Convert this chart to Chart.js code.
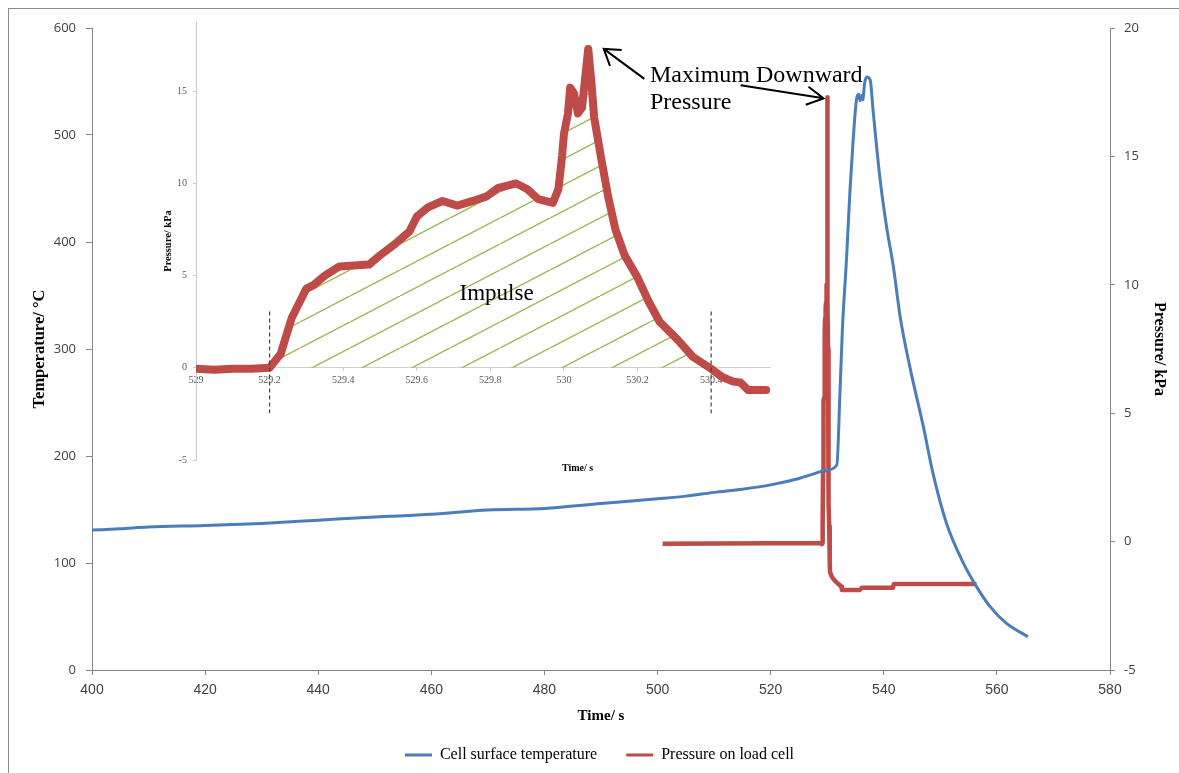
<!DOCTYPE html>
<html>
<head>
<meta charset="utf-8">
<script src="https://cdn.jsdelivr.net/npm/chart.js@4.4.1/dist/chart.umd.min.js"></script>
<style>
  body { margin: 0; background: #fff; overflow: hidden; }
  #wrap { position: relative; width: 1179px; height: 773px; overflow: hidden; }
  #frame { position: absolute; left: 8px; top: 8px; width: 1200px; height: 800px; border: 1px solid #8c8c8c; }
  #main { position: absolute; left: 0; top: 0; }
  #inset { position: absolute; left: 150px; top: 10px; pointer-events: none; }
</style>
</head>
<body>
<div id="wrap">
  <div id="frame"></div>
  <canvas id="main" width="1179" height="773"></canvas>
  <canvas id="inset" width="630" height="470"></canvas>
</div>
<script>
// cell surface temperature (°C) against time (s)
const tempTime = [400, 405, 410, 420, 430, 440, 450, 460, 470, 480,
  490, 500, 505, 510, 515, 520, 525, 528, 530, 531.7,
  532.25, 532.7, 533.4, 534.0, 534.55, 535.25, 535.6, 535.8, 536.1, 536.3,
  536.6, 537.0, 537.6, 538.1, 539.3, 540.5, 541.7, 542.9, 544.6, 547.0,
  548.7, 551.1, 554.1, 556.4, 558.8, 561.7, 565.5];
const tempValue = [130.8, 132, 133.6, 135, 137, 140, 143, 145.5, 149.5, 151,
  155.5, 160, 162.5, 166, 169, 173, 179, 184, 187, 191.6,
  258.9, 320.6, 383.2, 445.8, 492.5, 535.5, 538, 532, 537, 533,
  548, 554.2, 551.4, 523.4, 460.7, 414, 376.9, 330, 283.5, 227.4,
  183.8, 137, 99.7, 77.9, 59.2, 43.6, 31.1];

// pressure on load cell (kPa): flat start, the event (also the inset), then the tail
const startTime = [500.9];
const startPressure = [-0.08];
const insetTime = [529.00, 529.05, 529.10, 529.15, 529.20, 529.23, 529.26, 529.30, 529.32, 529.35,
  529.39, 529.47, 529.50, 529.54, 529.58, 529.60, 529.63, 529.67, 529.71, 529.76,
  529.79, 529.82, 529.87, 529.90, 529.93, 529.97, 529.985, 529.995, 530.00, 530.011,
  530.017, 530.027, 530.038, 530.049, 530.057, 530.066, 530.075, 530.082, 530.10, 530.12,
  530.14, 530.165, 530.20, 530.23, 530.26, 530.31, 530.35, 530.40, 530.43, 530.46,
  530.48, 530.50, 530.55];
const insetPressure = [-0.05, -0.1, -0.05, -0.05, 0, 0.75, 2.7, 4.3, 4.5, 5.0,
  5.5, 5.6, 6.1, 6.7, 7.4, 8.2, 8.7, 9.05, 8.8, 9.1,
  9.3, 9.75, 10.0, 9.7, 9.15, 8.95, 9.7, 11.5, 12.7, 13.8,
  15.2, 14.9, 13.8, 14.1, 15.6, 17.3, 15.4, 13.6, 11.5, 9.3,
  7.5, 6.1, 4.9, 3.6, 2.5, 1.5, 0.6, -0.05, -0.5, -0.75,
  -0.8, -1.2, -1.2];
const tailTime = [530.9, 531.5, 532.5, 532.6, 535.8, 536.1, 541.6, 541.8, 556.4];
const tailPressure = [-1.4, -1.56, -1.75, -1.88, -1.88, -1.8, -1.8, -1.65, -1.65];

// impulse window and its dashed markers
const impulseBounds = [529.2, 530.4];
const markerPressure = [3.06, -2.47];
const peak = { time: 530.066, pressure: 17.3 };

const mainTicksX = { min: 400, max: 580, step: 20 };
const mainTicksTemp = { min: 0, max: 600, step: 100 };
const mainTicksPressure = { min: -5, max: 20, step: 5 };
const insetRangeX = [529, 530.56];
const insetRangeY = [-5, 18.76];

const serif = "'Liberation Serif', 'Times New Roman', serif";
const sans = "'Open Sans', 'DejaVu Sans', sans-serif";
const xsans = "'Liberation Sans', Arial, sans-serif";
const BLUE = '#4a7ebb', RED = '#be4b48';

const pts = (xs, ys) => xs.map((x, i) => ({ x, y: ys[i] }));
const tempPts = pts(tempTime, tempValue);
const insetPts = pts(insetTime, insetPressure);
const pressurePts = pts(startTime, startPressure).concat(insetPts, pts(tailTime, tailPressure));
const impulsePts = insetPts.filter(p => p.x >= impulseBounds[0] && p.x <= impulseBounds[1]);

function arrow(ctx, x0, y0, x1, y1, head, spread) {
  const a = Math.atan2(y1 - y0, x1 - x0);
  ctx.beginPath();
  ctx.moveTo(x0, y0);
  ctx.lineTo(x1, y1);
  ctx.moveTo(x1 - head * Math.cos(a - spread), y1 - head * Math.sin(a - spread));
  ctx.lineTo(x1, y1);
  ctx.lineTo(x1 - head * Math.cos(a + spread), y1 - head * Math.sin(a + spread));
  ctx.stroke();
}

// main chart: the label and the arrow to the top of the spike
const mainNotes = {
  id: 'mainNotes',
  afterDatasetsDraw(chart) {
    const { ctx, scales: { x, y1 } } = chart;
    ctx.save();
    ctx.fillStyle = '#000';
    ctx.font = '24px ' + serif;
    const tx = x.getPixelForValue(498.66);
    ctx.fillText('Maximum Downward', tx, 76);
    ctx.fillText('Pressure', tx, 103);
    ctx.strokeStyle = '#000';
    ctx.lineWidth = 2;
    const tipX = x.getPixelForValue(peak.time) - 4;
    const tipY = y1.getPixelForValue(peak.pressure) + 1;
    arrow(ctx, tipX - 83, tipY - 13, tipX, tipY, 19, 0.5);
    ctx.restore();
  }
};

const legendLabels = ch => Chart.defaults.plugins.legend.labels.generateLabels(ch)
  .map(l => Object.assign(l, { fillStyle: l.strokeStyle, lineWidth: 0 }));

new Chart(document.getElementById('main'), {
  type: 'line',
  data: {
    datasets: [
      { label: 'Cell surface temperature', data: tempPts, yAxisID: 'y',
        borderColor: BLUE, backgroundColor: BLUE, borderWidth: 3, pointRadius: 0,
        cubicInterpolationMode: 'monotone' },
      { label: 'Pressure on load cell', data: pressurePts, yAxisID: 'y1',
        borderColor: RED, backgroundColor: RED, borderWidth: 4.5, pointRadius: 0,
        borderJoinStyle: 'round' }
    ]
  },
  options: {
    responsive: false,
    animation: false,
    layout: { padding: { left: 26, top: 28, right: 6, bottom: 0 } },
    plugins: {
      tooltip: { enabled: false },
      legend: {
        position: 'bottom',
        labels: { boxWidth: 27, boxHeight: 3, padding: 29, color: '#000',
          font: { family: serif, size: 16 }, generateLabels: legendLabels }
      }
    },
    scales: {
      x: {
        type: 'linear', min: mainTicksX.min, max: mainTicksX.max,
        ticks: { stepSize: mainTicksX.step, color: '#404040', padding: 7, font: { family: xsans, size: 14 } },
        grid: { drawOnChartArea: false, tickLength: 5, color: '#868686' },
        border: { color: '#868686' },
        title: { display: true, text: 'Time/ s', color: '#000', padding: { top: 0, bottom: -7 },
          font: { family: serif, size: 15, weight: 'bold' } },
        afterFit: s => { s.height = 48; }
      },
      y: {
        position: 'left', min: mainTicksTemp.min, max: mainTicksTemp.max,
        ticks: { stepSize: mainTicksTemp.step, color: '#404040', padding: 10, font: { family: sans, size: 13 } },
        grid: { drawOnChartArea: false, tickLength: 6, color: '#868686' },
        border: { color: '#868686' },
        title: { display: true, text: 'Temperature/ °C', color: '#000',
          font: { family: serif, size: 16.5, weight: 'bold' } },
        afterFit: s => { s.width = 66; }
      },
      y1: {
        position: 'right', min: mainTicksPressure.min, max: mainTicksPressure.max,
        ticks: { stepSize: mainTicksPressure.step, color: '#404040', padding: 9, font: { family: sans, size: 13 } },
        grid: { drawOnChartArea: false, tickLength: 5, color: '#868686' },
        border: { color: '#868686' },
        title: { display: true, text: 'Pressure/ kPa', color: '#000',
          font: { family: serif, size: 16, weight: 'bold' } },
        afterFit: s => { s.width = 63; }
      }
    }
  },
  plugins: [mainNotes]
});

// inset: the pressure pulse with the hatched impulse area
function hatchPattern() {
  const c = document.createElement('canvas');
  c.width = 50; c.height = 26;
  const g = c.getContext('2d');
  g.strokeStyle = '#9bbb59';
  g.lineWidth = 1.5;
  g.beginPath();
  for (const dx of [-50, 0, 50]) { g.moveTo(dx, 26); g.lineTo(dx + 50, 0); }
  g.stroke();
  return g.createPattern(c, 'repeat');
}

const onStep = (step) => s => {
  s.ticks = s.ticks.filter(t => Math.abs(t.value / step - Math.round(t.value / step)) < 1e-6);
};

const insetNotes = {
  id: 'insetNotes',
  afterDraw(chart) {
    const { ctx, chartArea, scales: { x, y } } = chart;
    ctx.save();
    ctx.fillStyle = '#000';
    ctx.textAlign = 'center';
    ctx.textBaseline = 'middle';
    ctx.font = '23px ' + serif;
    ctx.fillText('Impulse', x.getPixelForValue(529.817), y.getPixelForValue(4.03));
    ctx.font = 'bold 10px ' + serif;
    ctx.fillText('Time/ s', x.getPixelForValue(530.037), chartArea.bottom + 8);
    ctx.strokeStyle = '#000';
    ctx.lineWidth = 2;
    const tipX = x.getPixelForValue(peak.time) + 15.5;
    const tipY = y.getPixelForValue(peak.pressure);
    arrow(ctx, tipX + 40.6, tipY + 30, tipX, tipY, 18, 0.58);
    ctx.restore();
  }
};

const markerSet = (t) => ({
  data: pts([t, t], markerPressure), borderColor: '#404040', borderWidth: 1.2,
  borderDash: [4, 3], pointRadius: 0, order: 0
});

new Chart(document.getElementById('inset'), {
  type: 'line',
  data: {
    datasets: [
      { data: impulsePts, fill: 'origin', backgroundColor: hatchPattern(),
        borderWidth: 0, pointRadius: 0, order: 2 },
      { data: insetPts, borderColor: RED, borderWidth: 8, pointRadius: 0,
        borderJoinStyle: 'round', borderCapStyle: 'round', order: 1 },
      markerSet(impulseBounds[0]),
      markerSet(impulseBounds[1])
    ]
  },
  options: {
    responsive: false,
    animation: false,
    layout: { padding: { left: 8, top: 8, right: 10, bottom: 20 } },
    plugins: { legend: { display: false }, tooltip: { enabled: false } },
    scales: {
      x: {
        type: 'linear', position: { y: 0 }, min: insetRangeX[0], max: insetRangeX[1],
        afterBuildTicks: onStep(0.2),
        ticks: { stepSize: 0.2, color: '#595959', padding: 4, font: { family: serif, size: 10 },
          callback: v => String(Math.round(v * 10) / 10) },
        grid: { drawOnChartArea: false, tickLength: 3, color: '#d0d0d0' },
        border: { color: '#d0d0d0' }
      },
      y: {
        min: insetRangeY[0], max: insetRangeY[1],
        afterBuildTicks: onStep(5),
        ticks: { stepSize: 5, color: '#595959', padding: 6, font: { family: serif, size: 10 } },
        grid: { drawOnChartArea: false, tickLength: 3, color: '#c8c8c8' },
        border: { color: '#c8c8c8' },
        title: { display: true, text: 'Pressure/ kPa', color: '#000',
          font: { family: serif, size: 10.5, weight: 'bold' } },
        afterFit: s => { s.width = 38; }
      }
    }
  },
  plugins: [insetNotes]
});
</script>
</body>
</html>
